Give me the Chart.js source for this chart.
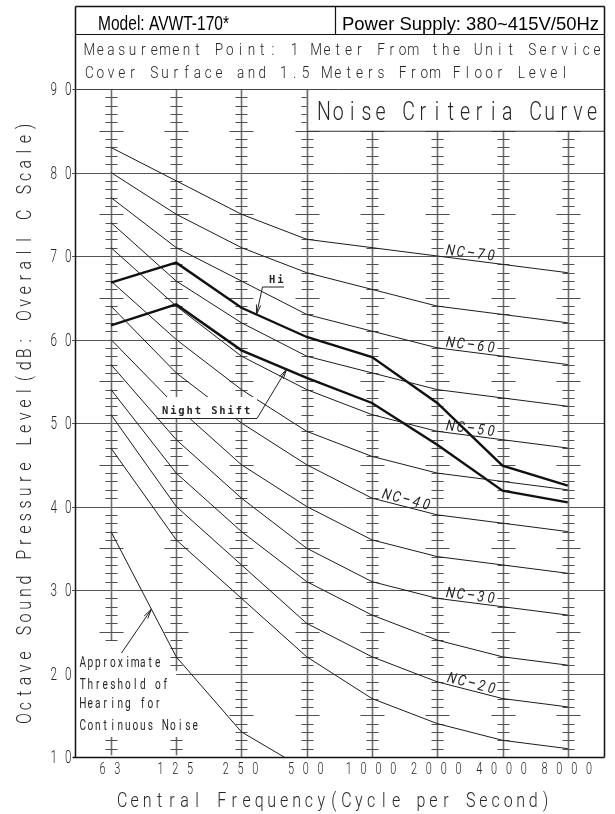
<!DOCTYPE html>
<html>
<head>
<meta charset="utf-8">
<script src="https://cdn.jsdelivr.net/npm/chart.js@4.4.1/dist/chart.umd.min.js"></script>
<style>
  html, body { margin: 0; padding: 0; background: #fff; }
  #wrap { width: 615px; height: 814px; position: relative; }
  canvas { display: block; }
</style>
</head>
<body>
<div id="wrap"><canvas id="nc" width="615" height="814" style="width:615px;height:814px"></canvas></div>
<script>
// Octave band centre frequencies (Hz)
const frequencies = ['63', '125', '250', '500', '1000', '2000', '4000', '8000'];
// Level axis ticks (dB)
const levelTicks = [10, 20, 30, 40, 50, 60, 70, 80, 90];

// Noise criteria curves, dB per octave band
const nc15 = [47, 36, 29, 22, 17, 14, 12, 11];
const nc20 = [51, 40, 33, 26, 22, 19, 17, 16];
const nc25 = [54, 44, 37, 31, 27, 24, 22, 21];
const nc30 = [57, 48, 41, 35, 31, 29, 28, 27];
const nc35 = [60, 52, 45, 40, 36, 34, 33, 32];
const nc40 = [64, 56, 50, 45, 41, 39, 38, 37];
const nc45 = [67, 60, 54, 49, 46, 44, 43, 42];
const nc50 = [71, 64, 58, 54, 51, 49, 48, 47];
const nc55 = [74, 67, 62, 58, 56, 54, 53, 52];
const nc60 = [77, 71, 67, 63, 61, 59, 58, 57];
const nc65 = [80, 75, 71, 68, 66, 64, 63, 62];
const nc70 = [83, 79, 75, 72, 71, 70, 69, 68];
const ncNames = ['NC-15', 'NC-20', 'NC-25', 'NC-30', 'NC-35', 'NC-40', 'NC-45', 'NC-50', 'NC-55', 'NC-60', 'NC-65', 'NC-70'];
const ncLabelled = ['NC-70', 'NC-60', 'NC-50', 'NC-40', 'NC-30', 'NC-20'];

// Measured unit noise
const hiLevels = [66.8, 69.2, 63.8, 60.3, 57.9, 52.4, 44.9, 42.5];
const nightShiftLevels = [61.7, 64.2, 58.7, 55.4, 52.4, 47.4, 41.9, 40.5];

// Approximate threshold of hearing (63 .. 500 Hz)
const hearingThreshold = [37, 22, 13, 8.4];

const ncCurves = [nc15, nc20, nc25, nc30, nc35, nc40, nc45, nc50, nc55, nc60, nc65, nc70];
const toPoints = arr => arr.map((v, i) => ({ x: i, y: v }));

const CAD_FONT = "Roboto, 'DejaVu Sans', sans-serif";

// Monospaced "drafting" lettering: every glyph centred in a fixed-pitch cell
function cadText(ctx, str, x, y, o) {
  const size = o.size, pitch = o.pitch, sx = o.sx || 0.75;
  const weight = o.weight || '400', family = o.family || CAD_FONT;
  ctx.save();
  ctx.translate(x, y);
  if (o.angle) ctx.rotate(o.angle);
  ctx.font = (o.italic ? 'italic ' : '') + weight + ' ' + size + 'px ' + family;
  ctx.fillStyle = o.color || '#262626';
  ctx.textAlign = 'center';
  ctx.textBaseline = 'alphabetic';
  const chars = Array.from(str);
  const w = chars.length * pitch;
  const start = o.align === 'center' ? -w / 2 : (o.align === 'right' ? -w : 0);
  chars.forEach((ch, i) => {
    if (ch === ' ') return;
    ctx.save();
    ctx.translate(start + (i + 0.5) * pitch, 0);
    ctx.scale(sx, 1);
    ctx.fillText(ch, 0, 0);
    ctx.restore();
  });
  ctx.restore();
}

// Plain proportional text squeezed to a given width
function fitText(ctx, str, x0, x1, baseline, font) {
  ctx.save();
  ctx.font = font;
  ctx.fillStyle = '#000';
  ctx.textAlign = 'left';
  ctx.textBaseline = 'alphabetic';
  const w = ctx.measureText(str).width;
  ctx.translate(x0, baseline);
  ctx.scale((x1 - x0) / w, 1);
  ctx.fillText(str, 0, 0);
  ctx.restore();
}

function seg(ctx, x0, y0, x1, y1) {
  ctx.beginPath(); ctx.moveTo(x0, y0); ctx.lineTo(x1, y1); ctx.stroke();
}

function arrow(ctx, x0, y0, x1, y1) {
  const len = 10, spread = 0.22;
  const ang = Math.atan2(y1 - y0, x1 - x0);
  ctx.beginPath();
  ctx.moveTo(x0, y0); ctx.lineTo(x1, y1);
  ctx.moveTo(x1 - len * Math.cos(ang - spread), y1 - len * Math.sin(ang - spread));
  ctx.lineTo(x1, y1);
  ctx.lineTo(x1 - len * Math.cos(ang + spread), y1 - len * Math.sin(ang + spread));
  ctx.stroke();
}

// value of a polyline series at a fractional band index
function valueAt(arr, idx) {
  const i = Math.min(Math.floor(idx), arr.length - 2);
  const t = idx - i;
  return arr[i] + (arr[i + 1] - arr[i]) * t;
}

const sheetPlugin = {
  id: 'ncSheet',
  beforeDraw(chart) {
    const { ctx, width, height } = chart;
    ctx.save();
    ctx.fillStyle = '#fff';
    ctx.fillRect(0, 0, width, height);
    ctx.restore();
  },
  beforeDatasetsDraw(chart) {
    const { ctx, chartArea: a, scales: { x, y } } = chart;
    ctx.save();
    // 10 dB rules
    ctx.strokeStyle = '#555';
    ctx.lineWidth = 1;
    levelTicks.forEach(v => {
      if (v === 10 || v === 90) return;
      const py = Math.round(y.getPixelForValue(v)) + 0.5;
      const x0 = v === 20 ? x.getPixelForValue(1) : a.left - 4;
      seg(ctx, x0, py, a.right, py);
    });
    // graduated band columns
    frequencies.forEach((f, i) => {
      const px = Math.round(x.getPixelForValue(i)) + 0.5;
      let spans = [[10, 90]];
      if (i === 0) spans = [[24, 90], [10.2, 12.4]];
      if (i === 1) spans = [[20.3, 90], [10.2, 12.4]];
      spans.forEach(([lo, hi]) => {
        ctx.strokeStyle = '#6e6e6e';
        ctx.lineWidth = 1.6;
        seg(ctx, px, y.getPixelForValue(lo), px, y.getPixelForValue(hi));
        ctx.strokeStyle = '#505050';
        ctx.lineWidth = 1;
        for (let v = Math.ceil(lo); v <= Math.floor(hi); v++) {
          if (v % 10 === 0) continue;
          const half = v % 5 === 0 ? 12 : 6;
          const py = Math.round(y.getPixelForValue(v)) + 0.5;
          seg(ctx, px - half, py, px + half, py);
        }
      });
    });
    ctx.restore();
  },
  afterDatasetsDraw(chart) {
    const { ctx, chartArea: a, scales: { x, y } } = chart;
    ctx.save();
    ctx.lineCap = 'butt';

    // title box in the upper right of the plot
    const bx = x.getPixelForValue(3), by0 = y.getPixelForValue(90), by1 = y.getPixelForValue(85);
    ctx.fillStyle = '#fff';
    ctx.fillRect(bx, by0, a.right - bx, by1 - by0);
    ctx.strokeStyle = '#333';
    ctx.lineWidth = 1;
    seg(ctx, bx, by1 + 0.5, a.right, by1 + 0.5);
    ctx.strokeStyle = '#6e6e6e'; ctx.lineWidth = 1.6;
    seg(ctx, Math.round(bx) + 0.5, by0, Math.round(bx) + 0.5, by1);
    cadText(ctx, 'Noise Criteria Curve', 317, 119.5, { size: 26, pitch: 14.1, weight: '300' });

    // NC curve names, laid along their curve
    ncLabelled.forEach(name => {
      const vals = ncCurves[ncNames.indexOf(name)];
      const idx = name === 'NC-40' ? 4.5 : 5.5;
      const i0 = Math.floor(idx);
      const px = x.getPixelForValue(idx), py = y.getPixelForValue(valueAt(vals, idx));
      const ang = Math.atan2(y.getPixelForValue(vals[i0 + 1]) - y.getPixelForValue(vals[i0]),
                             x.getPixelForValue(i0 + 1) - x.getPixelForValue(i0));
      ctx.save();
      ctx.translate(px, py);
      ctx.rotate(ang);
      cadText(ctx, name.replace('-', '\u2013'), 0, -2.5, { size: 15, pitch: 10.2, sx: 0.85, italic: true, align: 'center' });
      ctx.restore();
    });

    ctx.strokeStyle = '#222';
    ctx.lineWidth = 1;

    // "Hi" callout
    const hiTip = { x: x.getPixelForValue(2.23), y: y.getPixelForValue(valueAt(hiLevels, 2.23)) };
    cadText(ctx, 'Hi', 268, 282.5, { size: 11, pitch: 8.2, sx: 0.95, weight: 'bold', family: "'DejaVu Sans Mono', monospace" });
    seg(ctx, 262.5, 287, 284, 287);
    arrow(ctx, 262.5, 287, hiTip.x, hiTip.y);

    // "Night Shift" callout
    const nsTip = { x: x.getPixelForValue(2.69), y: y.getPixelForValue(valueAt(nightShiftLevels, 2.69)) };
    ctx.fillStyle = '#fff';
    ctx.fillRect(161, 397, 96, 21);
    cadText(ctx, 'Night Shift', 161, 413.5, { size: 11, pitch: 8.2, sx: 0.95, weight: 'bold', family: "'DejaVu Sans Mono', monospace" });
    seg(ctx, 156.5, 418.5, 257, 418.5);
    arrow(ctx, 257, 418.5, nsTip.x, nsTip.y);

    // hearing threshold note
    const thTip = { x: x.getPixelForValue(0.62), y: y.getPixelForValue(valueAt(hearingThreshold, 0.62)) };
    arrow(ctx, 121.5, 653, thTip.x, thTip.y);
    const noteOpt = { size: 14, pitch: 7.5, sx: 0.72 };
    cadText(ctx, 'Approximate', 79, 666.5, noteOpt);
    cadText(ctx, 'Threshold of', 79, 689, noteOpt);
    cadText(ctx, 'Hearing for', 79, 708, noteOpt);
    cadText(ctx, 'Continuous Noise', 79, 730, noteOpt);

    ctx.restore();
  },
  afterDraw(chart) {
    const { ctx, chartArea: a, scales: { x, y } } = chart;
    ctx.save();
    const L = 75.5, R = Math.round(a.right) + 0.5, T = 6.5;
    const top = Math.round(a.top) + 0.5, bot = Math.round(a.bottom) + 0.5;

    // sheet frame
    ctx.strokeStyle = '#111';
    ctx.lineWidth = 1.5;
    seg(ctx, L, T, R, T);
    seg(ctx, L, T, L, bot);
    seg(ctx, R, T, R, bot);
    seg(ctx, L - 3, bot, R, bot);
    ctx.lineWidth = 1.2;
    seg(ctx, L, 34.5, R, 34.5);
    seg(ctx, 335.5, T, 335.5, 34.5);
    ctx.strokeStyle = '#444';
    ctx.lineWidth = 1;
    seg(ctx, L - 3, top, R, top);

    // header
    fitText(ctx, 'Model: AVWT-170*', 98, 229, 30, "20px 'Liberation Sans', Arial, sans-serif");
    fitText(ctx, 'Power Supply: 380~415V/50Hz', 342, 599, 30, "19px 'Liberation Sans', Arial, sans-serif");
    cadText(ctx, 'Measurement Point: 1 Meter From the Unit Service', 84, 55, { size: 17, pitch: 10.8, weight: '300', sx: 0.8 });
    cadText(ctx, 'Cover Surface and 1.5 Meters From Floor Level', 84, 78.3, { size: 17, pitch: 10.8, weight: '300', sx: 0.8 });

    // level axis numbers
    levelTicks.forEach(v => {
      const py = y.getPixelForValue(v);
      cadText(ctx, String(v).split('').join(' '), 61, py + 6.3, { size: 17.8, pitch: 7.2, sx: 0.66, weight: '300', align: 'center' });
    });
    // frequency axis numbers
    frequencies.forEach((f, i) => {
      const px = x.getPixelForValue(i);
      cadText(ctx, f.split('').join(' '), px - 1, 773.5, { size: 16, pitch: 7.4, sx: 0.68, weight: '300', align: 'center' });
    });

    // axis titles
    cadText(ctx, 'Central Frequency(Cycle per Second)', 116, 806.5, { size: 20, pitch: 12.45, weight: '300', sx: 0.8 });
    cadText(ctx, 'Octave Sound Pressure Level(dB: Overall C Scale)', 31, 725, { size: 20, pitch: 12.6, weight: '300', sx: 0.8, angle: -Math.PI / 2 });
    ctx.restore();
  }
};

const datasets = ncCurves.map((vals, k) => ({
  label: ncNames[k],
  data: toPoints(vals),
  borderColor: '#1c1c1c',
  borderWidth: 1,
  pointRadius: 0,
  tension: 0,
  fill: false
}));
datasets.push({
  label: 'Threshold of Hearing',
  data: toPoints(hearingThreshold),
  borderColor: '#1c1c1c', borderWidth: 1, pointRadius: 0, tension: 0, fill: false
});
datasets.push({
  label: 'Hi',
  data: toPoints(hiLevels),
  borderColor: '#111', borderWidth: 2.4, pointRadius: 0, tension: 0, fill: false
});
datasets.push({
  label: 'Night Shift',
  data: toPoints(nightShiftLevels),
  borderColor: '#111', borderWidth: 2.4, pointRadius: 0, tension: 0, fill: false
});

new Chart(document.getElementById('nc'), {
  type: 'line',
  data: { datasets },
  options: {
    responsive: false,
    animation: false,
    devicePixelRatio: 1,
    layout: { padding: { left: 76, right: 10.7, top: 89, bottom: 57 } },
    plugins: { legend: { display: false }, tooltip: { enabled: false } },
    scales: {
      x: { type: 'linear', min: -0.536, max: 7.56, display: false },
      y: { type: 'linear', min: 10, max: 90, display: false }
    }
  },
  plugins: [sheetPlugin]
});
</script>
</body>
</html>
